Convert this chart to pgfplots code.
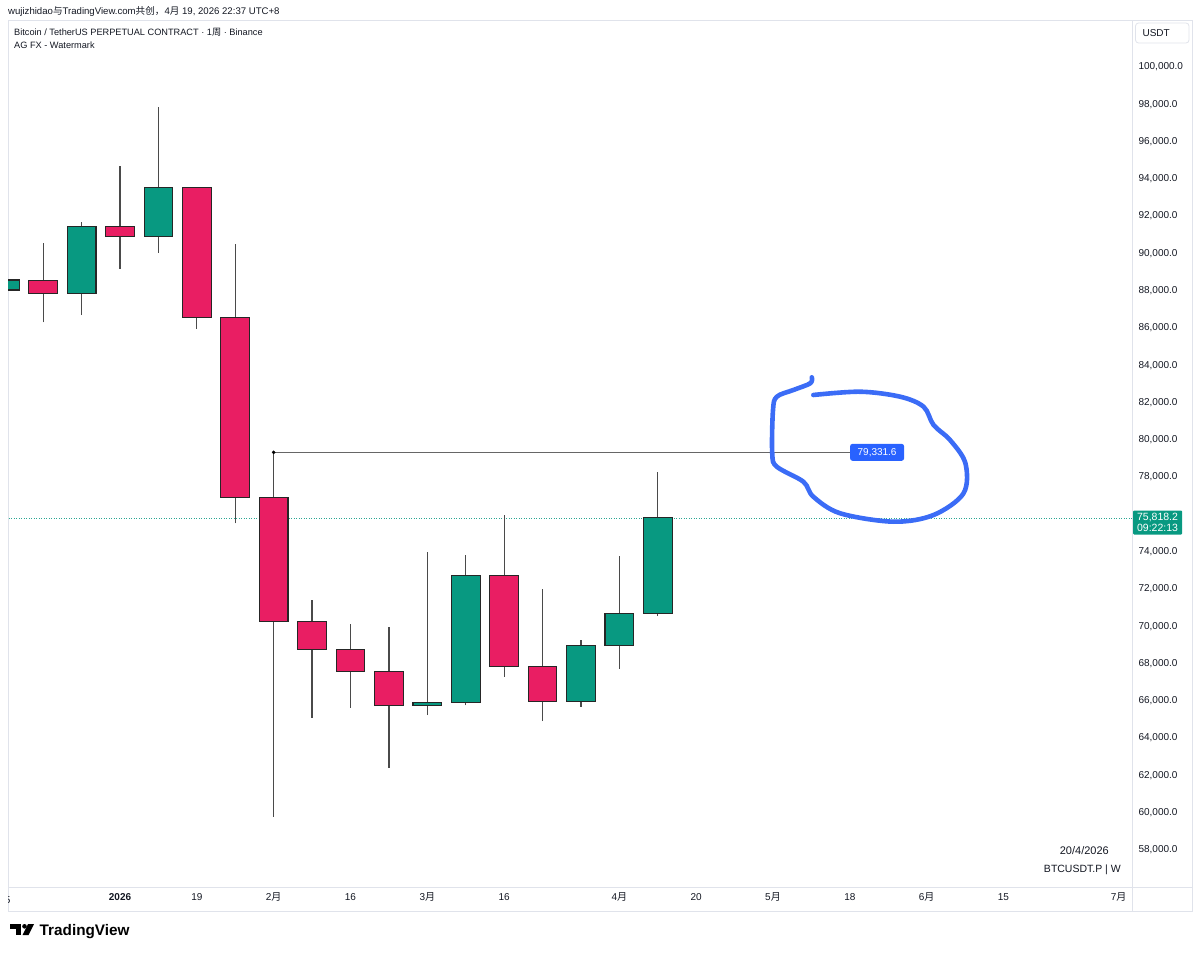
\documentclass[border=0pt]{standalone}
\usepackage{pgfplots}
\usepackage{pgfplotstable}
\pgfplotsset{compat=1.18}
\usepackage{fontspec}
\setmainfont{Liberation Sans}
\newfontfamily\cjk{Noto Sans CJK SC}
\definecolor{tvgreen}{HTML}{089981}
\definecolor{tvred}{HTML}{E91E63}
\definecolor{tvblue}{HTML}{2962FF}
\definecolor{penblue}{HTML}{3B6CF6}
\definecolor{tvtext}{HTML}{131722}
\definecolor{tvborder}{HTML}{E0E3EB}
\definecolor{wickc}{HTML}{4A4A4A}

% weekly candles: x = week index (0 = week of 5 Jan 2026), u = 1 up / 0 down
\pgfplotstableread{
x  o       h        l       c       u
-3 88037   88800    87500   88575   1
-2 88537   90543    86306   87862   0
-1 87862   91702    86697   91434   1
0  91434   94690    89165   90897   0
1  90897   97871    90039   93547   1
2  93547   93547    85962   86553   0
3  86553   90506    75518   76900   0
4  76900   79331.6  59786   70267   0
5  70267   71410    65097   68766   0
6  68766   70123    65633   67565   0
7  67565   69978    62414   65740   0
8  65740   74001    65241   65901   1
9  65901   73840    65760   72735   1
10 72735   75969    67296   67832   0
11 67832   71983    64919   65955   0
12 65955   69248    65687   68953   1
13 68953   73770    67725   70700   1
14 70700   78276    70551   75818.2 1
}\candles

\begin{document}
\begin{tikzpicture}[x=1pt,y=1pt]
\path[use as bounding box] (0,0) rectangle (1200,-953);
% pane frame
\draw[tvborder, line width=0.8pt] (8,-20) -- (1192,-20) -- (1192,-911) -- (8,-911) -- cycle;
\draw[tvborder, line width=0.8pt] (1132.5,-20) -- (1132.5,-911);
\draw[tvborder, line width=0.8pt] (8,-887) -- (1192,-887);

\begin{axis}[
  at={(8pt,-20pt)}, anchor=north west,
  scale only axis, width=1124.5pt, height=867pt,
  xmin=-2.917, xmax=26.36, ymin=56015, ymax=102521,
  axis line style={draw=none},
  major tick length=0pt,
  ytick={58000,60000,62000,64000,66000,68000,70000,72000,74000,78000,80000,82000,84000,86000,88000,90000,92000,94000,96000,98000,100000},
  yticklabel pos=right,
  scaled y ticks=false,
  yticklabel style={
    /pgf/number format/.cd, fixed, fixed zerofill, precision=1, 1000 sep={,}, assume math mode=true,
    /tikz/.cd, font=\fontsize{10}{12}\selectfont, text=tvtext, anchor=west, xshift=2.5pt},
  xtick={0,2,4,6,8,10,13,15,17,19,21,23,26},
  xticklabels={\textbf{2026},19,2{\cjk 月},16,3{\cjk 月},16,4{\cjk 月},20,5{\cjk 月},18,6{\cjk 月},15,7{\cjk 月}},
  xticklabel style={font=\fontsize{10}{12}\selectfont, text=tvtext, anchor=base, yshift=-13pt},
  clip=true,
]
% last price dotted line
\addplot[tvgreen!85, line width=0.6pt, dash pattern=on 0.7pt off 1.8pt] coordinates {(-4,75818.2) (27,75818.2)};
% horizontal ray from high of week 4
\addplot[black!60, line width=1.1pt] coordinates {(4,79331.6) (19.0,79331.6)};
\addplot[only marks, mark=*, mark size=1.6pt, black] coordinates {(4,79331.6)};

% candles
\pgfplotsforeachungrouped \i in {0,...,17}{%
  \pgfplotstablegetelem{\i}{x}\of\candles \let\cx\pgfplotsretval
  \pgfplotstablegetelem{\i}{o}\of\candles \let\co\pgfplotsretval
  \pgfplotstablegetelem{\i}{h}\of\candles \let\ch\pgfplotsretval
  \pgfplotstablegetelem{\i}{l}\of\candles \let\cl\pgfplotsretval
  \pgfplotstablegetelem{\i}{c}\of\candles \let\cc\pgfplotsretval
  \pgfmathsetmacro\xl{\cx-0.374}%
  \pgfmathsetmacro\xr{\cx+0.374}%
  \pgfplotstablegetelem{\i}{u}\of\candles
  \ifnum\pgfplotsretval=1 \def\bc{tvgreen}\else\def\bc{tvred}\fi
  \edef\temp{%
    \noexpand\draw[wickc, line width=1.2pt] (axis cs:\cx,\cl) -- (axis cs:\cx,\ch);
    \noexpand\draw[black!85, line width=1.1pt, fill=\bc] (axis cs:\xl,\co) rectangle (axis cs:\xr,\cc);
  }\temp
}

% hand-drawn blue loop
\addplot[penblue, line width=4.6pt, line cap=round, line join=round, smooth, tension=0.55] coordinates {
(18.01,83355) (17.97,83034) (17.53,82674) (17.10,82315) (17.00,81601) (16.98,79279)
(17.10,78560) (17.79,77756) (18.05,76951) (18.75,76060) (20.14,75610) (21.18,75969)
(21.96,77133) (22.01,78742) (21.61,79992) (21.18,80797) (20.92,81778) (20.31,82315)
(19.27,82583) (18.05,82406)};

\node[fill=tvblue, rounded corners=2.5pt, text=white, font=\fontsize{10}{12}\selectfont,
      minimum width=54pt, minimum height=17pt, inner sep=0pt] at (axis cs:19.71,79331.6) {79,331.6};
\end{axis}

% partial "15" label at the left edge
\begin{scope}
\clip (8,-888) rectangle (100,-911);
\node[font=\fontsize{10}{12}\selectfont, text=tvtext, anchor=base] at (4.8,-903) {15};
\end{scope}

% price scale extras
\draw[tvborder, line width=0.8pt, fill=white, rounded corners=3pt] (1135.5,-23) rectangle (1189,-43);
\node[font=\fontsize{10}{12}\selectfont, text=tvtext, anchor=west] at (1139,-33) {USDT};
\fill[tvgreen, rounded corners=1pt] (1133,-510.5) rectangle (1182,-534.5);
\node[font=\fontsize{10.5}{11.5}\selectfont, text=white, align=center] at (1157.5,-522.5) {75,818.2\\09:22:13};

% header texts
\node[font=\fontsize{9.6}{12}\selectfont, text=tvtext, anchor=west, inner sep=0pt] at (8,-11)
  {wujizhidao{\cjk 与}TradingView.com{\cjk 共创，}4{\cjk 月} 19, 2026 22:37 UTC+8};
\node[font=\fontsize{9.2}{11}\selectfont, text=tvtext, anchor=west, inner sep=0pt] at (14,-32)
  {Bitcoin / TetherUS PERPETUAL CONTRACT · 1{\cjk 周} · Binance};
\node[font=\fontsize{9.2}{11}\selectfont, text=tvtext, anchor=west, inner sep=0pt] at (14,-45)
  {AG FX - Watermark};

% bottom-right info
\node[font=\fontsize{11}{13}\selectfont, text=tvtext, anchor=east, inner sep=0pt] at (1109,-851) {20/4/2026};
\node[font=\fontsize{10.5}{13}\selectfont, text=tvtext, anchor=east, inner sep=0pt] at (1121,-870) {BTCUSDT.P | W};

% TradingView logo
\fill[black] (10,-924) rectangle (21,-928.5);
\fill[black] (15.5,-924) rectangle (21,-935);
\fill[black] (24.5,-926.3) circle (2.3);
\fill[black] (28,-924) -- (34,-924) -- (28.5,-935) -- (22.5,-935) -- cycle;
\node[font=\fontsize{15.3}{17}\selectfont\bfseries, text=black, anchor=base west, inner sep=0pt] at (39.5,-935.5) {TradingView};
\end{tikzpicture}
\end{document}
